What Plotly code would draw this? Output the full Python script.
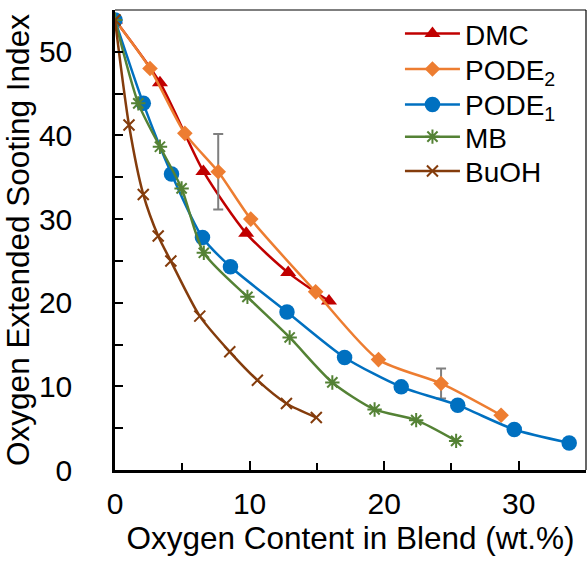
import plotly.graph_objects as go

# ---- data ----
dmc_x = [0, 3.34, 6.57, 9.75, 12.87, 15.9]
dmc_y = [53.8, 46.3, 35.7, 28.3, 23.6, 20.2]

pode2_x = [0, 2.6, 5.19, 7.67, 10.09, 14.91, 19.58, 24.23, 28.69]
pode2_y = [53.8, 48.0, 40.25, 35.66, 30.0, 21.3, 13.2, 10.35, 6.55]
pode2_err = [None, None, None, 4.5, None, None, None, 1.8, None]

pode1_x = [0, 2.1, 4.2, 6.5, 8.58, 12.78, 17.06, 21.27, 25.47, 29.67, 33.75]
pode1_y = [53.8, 43.84, 35.4, 27.8, 24.3, 18.9, 13.46, 9.94, 7.75, 4.84, 3.24]

mb_x = [0, 1.73, 3.34, 4.95, 6.6, 9.84, 12.98, 16.15, 19.29, 22.38, 25.35]
mb_y = [53.8, 43.84, 38.65, 33.67, 25.97, 20.7, 15.85, 10.47, 7.24, 5.96, 3.48]

buoh_x = [0, 1.04, 2.1, 3.21, 4.15, 6.3, 8.53, 10.58, 12.74, 14.96]
buoh_y = [53.8, 41.24, 32.95, 27.97, 24.98, 18.4, 14.13, 10.74, 7.95, 6.28]

names = ["DMC", "PODE<sub>2</sub>", "PODE<sub>1</sub>", "MB", "BuOH"]
colors = ["#C00000", "#ED7D31", "#0070C0", "#548235", "#843C0C"]

FONT = "Arial, Liberation Sans, sans-serif"
SM = 0.7

fig = go.Figure()
fig.add_trace(go.Scatter(
    x=dmc_x, y=dmc_y, name=names[0], mode="lines+markers", legend="legend",
    line=dict(color=colors[0], width=2.5, shape="spline", smoothing=SM),
    marker=dict(symbol="triangle-up", size=14, color=colors[0])))
fig.add_trace(go.Scatter(
    x=pode2_x, y=pode2_y, name=names[1], mode="lines+markers", legend="legend2",
    line=dict(color=colors[1], width=2.5, shape="spline", smoothing=SM),
    marker=dict(symbol="diamond", size=12, color=colors[1]),
    error_y=dict(type="data", array=pode2_err, visible=True,
                 color="#7F7F7F", thickness=2, width=5)))
fig.add_trace(go.Scatter(
    x=pode1_x, y=pode1_y, name=names[2], mode="lines+markers", legend="legend3",
    line=dict(color=colors[2], width=2.5, shape="spline", smoothing=SM),
    marker=dict(symbol="circle", size=15.5, color=colors[2])))
fig.add_trace(go.Scatter(
    x=mb_x, y=mb_y, name=names[3], mode="lines+markers", legend="legend4",
    line=dict(color=colors[3], width=2.5, shape="spline", smoothing=SM),
    marker=dict(symbol="asterisk-open", size=12, color=colors[3],
                line=dict(color=colors[3], width=2))))
fig.add_trace(go.Scatter(
    x=buoh_x, y=buoh_y, name=names[4], mode="lines+markers", legend="legend5",
    line=dict(color=colors[4], width=2.5, shape="spline", smoothing=SM),
    marker=dict(symbol="x-thin-open", size=11, color=colors[4],
                line=dict(color=colors[4], width=2))))

leg_y = [0.948, 0.871, 0.794, 0.724, 0.6495]
leg_common = dict(x=0.605, xanchor="left", yanchor="middle",
                  bgcolor="rgba(0,0,0,0)", font=dict(size=28),
                  itemwidth=55)
fig.update_layout(
    width=587, height=563,
    margin=dict(l=115, r=1, t=10, b=93, autoexpand=False),
    paper_bgcolor="white", plot_bgcolor="white",
    font=dict(family=FONT, size=30, color="black"),
    showlegend=True,
    legend=dict(y=leg_y[0], **leg_common),
    legend2=dict(y=leg_y[1], **leg_common),
    legend3=dict(y=leg_y[2], **leg_common),
    legend4=dict(y=leg_y[3], **leg_common),
    legend5=dict(y=leg_y[4], **leg_common),
)
fig.update_xaxes(
    range=[0, 35], dtick=10, tick0=0, ticks="inside", ticklen=9, tickwidth=2,
    tickcolor="black", showline=True, linecolor="black", linewidth=2.5,
    showgrid=False, zeroline=False, ticklabelstandoff=5,
    tickfont=dict(size=30),
    minor=dict(dtick=5, ticks="inside", ticklen=7, tickwidth=2, tickcolor="black"),
    title=dict(text="Oxygen Content in Blend (wt.%)", standoff=5,
               font=dict(size=31.5)))
fig.update_yaxes(
    range=[0, 55], dtick=10, tick0=0, ticks="inside", ticklen=8, tickwidth=2,
    tickcolor="black", showline=True, linecolor="black", linewidth=2.5,
    showgrid=False, zeroline=False, ticklabelstandoff=34,
    tickfont=dict(size=30),
    minor=dict(dtick=5, ticks="inside", ticklen=8, tickwidth=2, tickcolor="black"),
    title=dict(text="Oxygen Extended Sooting Index", standoff=3,
               font=dict(size=31.5)))
# thin top/right frame
fig.add_shape(type="line", xref="paper", yref="paper", x0=0, x1=1, y0=1, y1=1,
              line=dict(color="black", width=1.2))
fig.add_shape(type="line", xref="paper", yref="paper", x0=1, x1=1, y0=0, y1=1,
              line=dict(color="black", width=1.2))

fig.write_html("out.html", config=dict(displayModeBar=False),
               post_script="document.body.style.margin='0';")
